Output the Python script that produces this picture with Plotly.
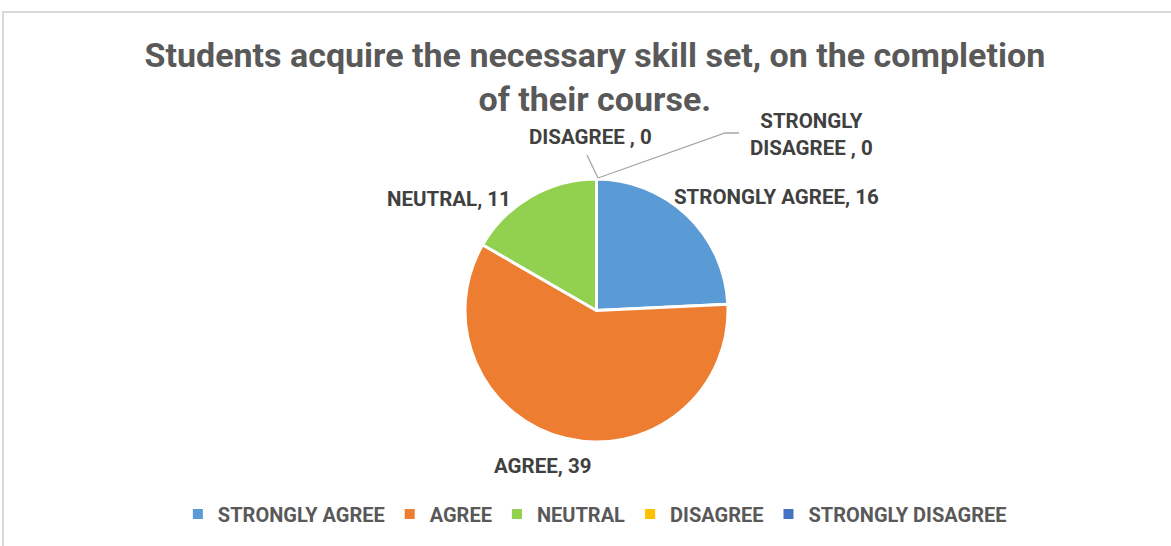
import plotly.graph_objects as go

title_text = "Students acquire the necessary skill set, on the completion<br>of their course."
categories = ["STRONGLY AGREE", "AGREE", "NEUTRAL", "DISAGREE", "STRONGLY DISAGREE"]
values = [16, 39, 11, 0, 0]
colors = ["#5B9BD5", "#ED7D31", "#92D050", "#FFC000", "#4472C4"]

W, H = 1171, 546
FONT = "Roboto, Open Sans, sans-serif"
TXT = "#404040"

def px(x):
    return x / W

def py(y):
    return 1 - y / H

fig = go.Figure()
fig.add_trace(go.Pie(
    labels=categories,
    values=values,
    marker=dict(colors=colors, line=dict(color="white", width=3)),
    sort=False,
    direction="clockwise",
    rotation=0,
    textinfo="none",
    hoverinfo="label+value",
    domain=dict(x=[px(465), px(728)], y=[py(442), py(179)]),
))

# data label positions (layout only); text comes from the data arrays
label_pos = {
    "STRONGLY AGREE": (776, 197),
    "AGREE": (542, 466),
    "NEUTRAL": (449, 199),
    "DISAGREE": (590, 137),
    "STRONGLY DISAGREE": (811, 134),
}
annotations = []
for cat, val in zip(categories, values):
    x, y = label_pos[cat]
    name = cat
    if cat == "STRONGLY DISAGREE":
        name = "STRONGLY<br>DISAGREE"
    sep = " , " if val == 0 else ", "
    annotations.append(dict(
        x=px(x), y=py(y), xref="paper", yref="paper",
        text=f"<b>{name}{sep}{val}</b>", showarrow=False,
        font=dict(family=FONT, size=20.5, color=TXT),
        xanchor="center", yanchor="middle", align="center",
    ))

shapes = [
    # chart frame
    dict(type="path", xref="paper", yref="paper",
         path=f"M {px(3)} 0 L {px(3)} {py(12)} L 1 {py(12)}",
         line=dict(color="#D9D9D9", width=2)),
    # leader lines
    dict(type="line", xref="paper", yref="paper",
         x0=px(598), y0=py(178), x1=px(587), y1=py(155),
         line=dict(color="#A6A6A6", width=1.3)),
    dict(type="path", xref="paper", yref="paper",
         path=f"M {px(598)} {py(178)} L {px(725)} {py(133)} L {px(739)} {py(133)}",
         line=dict(color="#A6A6A6", width=1.3)),
]

fig.update_layout(
    width=W, height=H,
    margin=dict(l=0, r=0, t=0, b=0),
    paper_bgcolor="white",
    plot_bgcolor="white",
    title=dict(
        text=f"<b>{title_text}</b>",
        x=0.508, xanchor="center", y=py(67), yanchor="middle",
        font=dict(family=FONT, size=34, color="#595959"),
    ),
    showlegend=True,
    legend=dict(
        orientation="h", x=0.508, xanchor="center", y=py(514), yanchor="middle",
        font=dict(family=FONT, size=20, color="#595959", weight="bold"),
        itemsizing="constant", traceorder="normal", itemwidth=30,
    ),
    annotations=annotations,
    shapes=shapes,
)

fig.write_html("out.html", config={"displayModeBar": False},
               post_script="document.body.style.margin='0';")
